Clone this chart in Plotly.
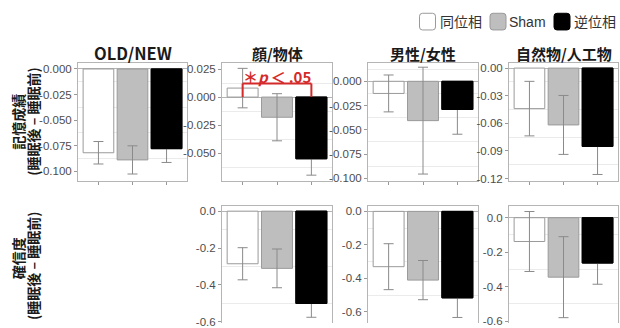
import plotly.graph_objects as go

# ---------------- data ----------------
conditions = ["同位相", "Sham", "逆位相"]

mem_titles = ["OLD/NEW", "顔/物体", "男性/女性", "自然物/人工物"]
mem_oldnew = [-0.082, -0.089, -0.078]
mem_oldnew_err = [0.011, 0.0138, 0.0135]
mem_face = [0.008, -0.018, -0.055]
mem_face_err = [0.0176, 0.021, 0.0146]
mem_gender = [-0.0125, -0.0405, -0.029]
mem_gender_err = [0.019, 0.055, 0.0255]
mem_nature = [-0.044, -0.0617, -0.085]
mem_nature_err = [0.0296, 0.032, 0.0305]

conf_face = [-0.285, -0.31, -0.50]
conf_face_err = [0.087, 0.105, 0.075]
conf_gender = [-0.33, -0.41, -0.516]
conf_gender_err = [0.137, 0.117, 0.117]
conf_nature = [-0.138, -0.345, -0.263]
conf_nature_err = [0.174, 0.235, 0.123]

ticks_mem3 = [0.0, -0.025, -0.05, -0.075, -0.1]
ticks_face = [0.025, 0.0, -0.025, -0.05]
ticks_nature = [0.0, -0.03, -0.06, -0.09, -0.12]
ticks_conf = [0.0, -0.2, -0.4, -0.6]

sig_pair = ("同位相", "逆位相")
sig_y = 0.0122
sig_label_y = 0.0184
sig_label = "＊<i>p</i>\u2009＜\u2009.05"

ylab_mem = ("記憶成績", "(睡眠後 – 睡眠前)")
ylab_conf = ("確信度", "(睡眠後 – 睡眠前)")

# ---------------- style / layout ----------------
W, H = 620, 328
fills = ["#ffffff", "#bebebe", "#000000"]
outlines = ["#9a9a9a", "#9a9a9a", "#000000"]
ERR = "#8a8a8a"
BORDER = "#b5b5b5"
GRID = "#ebebeb"
TICKFONT = dict(family="Liberation Sans, Arial, sans-serif", size=11.5, color="#4d4d4d")
CJK = "Noto Sans CJK JP"
RED = "#d42a2a"


def px(x):
    return x / W


def py(y):
    return 1 - y / H


cols = [(78, 187), (222, 332), (368, 478), (509, 618)]
top_y = (63, 183)
bot_y = (209, 328)

panels = [
    # axis idx, col, row, values, errors, ticks, fmt, step, yrange
    (1, 0, "top", mem_oldnew, mem_oldnew_err, ticks_mem3, "{:.3f}", 0.025, [-0.1093, 0.006]),
    (2, 1, "top", mem_face, mem_face_err, ticks_face, "{:.3f}", 0.025, [-0.0745, 0.0305]),
    (3, 2, "top", mem_gender, mem_gender_err, ticks_mem3, "{:.3f}", 0.025, [-0.1023, 0.019]),
    (4, 3, "top", mem_nature, mem_nature_err, ticks_nature, "{:.2f}", 0.03, [-0.1222, 0.0057]),
    (5, 1, "bot", conf_face, conf_face_err, ticks_conf, "{:.1f}", 0.2, [-0.606, 0.027]),
    (6, 2, "bot", conf_gender, conf_gender_err, ticks_conf, "{:.1f}", 0.2, [-0.666, 0.031]),
    (7, 3, "bot", conf_nature, conf_nature_err, ticks_conf, "{:.1f}", 0.2, [-0.611, 0.067]),
]

fig = go.Figure()
layout = dict(
    width=W, height=H, margin=dict(l=0, r=0, t=0, b=0),
    paper_bgcolor="white", plot_bgcolor="white",
    barmode="overlay", showlegend=False,
)


def fmt_tick(f, v):
    s = f.format(v)
    if s.startswith("-") and float(s) == 0:
        s = s[1:]
    return s


for idx, col, row, vals, errs, ticks, f, step, yr in panels:
    xa = "x" if idx == 1 else f"x{idx}"
    ya = "y" if idx == 1 else f"y{idx}"
    # bars: each condition its own trace; black drawn twice so its bar covers its inner error bar
    order = [0, 1, 2, 2]
    for k, i in enumerate(order):
        with_err = k != 3
        fig.add_trace(go.Bar(
            x=[conditions[i]], y=[vals[i]], width=0.9,
            marker=dict(color=fills[i], line=dict(color=outlines[i], width=1)),
            error_y=dict(type="data", array=[errs[i]], visible=with_err,
                         color=ERR, thickness=1, width=5),
            xaxis=xa, yaxis=ya, hoverinfo="skip",
        ))
    y0, y1 = top_y if row == "top" else bot_y
    xk = "xaxis" if idx == 1 else f"xaxis{idx}"
    yk = "yaxis" if idx == 1 else f"yaxis{idx}"
    minor_vals = [ticks[0] + step / 2] + [t - step / 2 for t in ticks]
    xdict = dict(
        domain=[px(cols[col][0]), px(cols[col][1])],
        anchor=ya, type="category", categoryorder="array", categoryarray=conditions,
        range=[-0.6, 2.6], showgrid=False, zeroline=False,
        showticklabels=False, showline=True, linecolor=BORDER, linewidth=1,
        fixedrange=True,
    )
    if row == "top":
        xdict.update(mirror=True, ticks="outside", ticklen=3, tickcolor="#999999", tickwidth=1)
    else:
        xdict.update(side="top", mirror=False, ticks="")
    ydict = dict(
        domain=[py(y1), py(y0)], anchor=xa, range=yr,
        tickmode="array", tickvals=ticks, ticktext=[fmt_tick(f, t) for t in ticks],
        tickfont=TICKFONT, ticks="outside", ticklen=3, tickcolor="#999999", tickwidth=1,
        ticklabeloverflow="allow",
        showgrid=False, zeroline=True, zerolinecolor=BORDER, zerolinewidth=1,
        showline=True, mirror=True, linecolor=BORDER, linewidth=1,
        minor=dict(tickmode="array", tickvals=minor_vals, showgrid=True,
                   gridcolor=GRID, gridwidth=1, ticks=""),
        fixedrange=True,
    )
    layout[xk] = xdict
    layout[yk] = ydict

annotations = []
shapes = []

# panel titles
for t, (c0, c1) in zip(mem_titles, cols):
    size = 16.5 if t.isascii() else 15
    annotations.append(dict(
        x=px((c0 + c1) / 2), y=py(53), xref="paper", yref="paper",
        text=t, showarrow=False, xanchor="center", yanchor="middle",
        font=dict(family=CJK, size=size, color="#1a1a1a", weight="bold"),
    ))

# y-axis titles
for (l1, l2), cy1, cy2 in [(ylab_mem, 123, 123), (ylab_conf, 262, 270)]:
    annotations.append(dict(x=px(18), y=py(cy1), xref="paper", yref="paper", text=l1,
                            textangle=-90, showarrow=False, xanchor="center", yanchor="middle",
                            font=dict(family=CJK, size=14, color="#1a1a1a", weight="bold")))
    annotations.append(dict(x=px(33), y=py(cy2), xref="paper", yref="paper", text=l2,
                            textangle=-90, showarrow=False, xanchor="center", yanchor="middle",
                            font=dict(family=CJK, size=14, color="#1a1a1a", weight="bold")))

# significance bracket in panel 2
i0 = conditions.index(sig_pair[0])
i1 = conditions.index(sig_pair[1])
for (xa0, ya0, xa1, ya1) in [(i0, 0, i0, sig_y), (i0, sig_y, i1, sig_y), (i1, sig_y, i1, 0)]:
    shapes.append(dict(type="line", xref="x2", yref="y2", x0=xa0, y0=ya0, x1=xa1, y1=ya1,
                       line=dict(color=RED, width=2)))
annotations.append(dict(x=(i0 + i1) / 2, y=sig_label_y, xref="x2", yref="y2", text=sig_label,
                        showarrow=False, xanchor="center", yanchor="middle",
                        font=dict(family=CJK, size=15, color=RED, weight="bold")))


# legend (manual)
def rrect(x0, y0, x1, y1, r):
    pts = (f"M {px(x0 + r)},{py(y0)} L {px(x1 - r)},{py(y0)} Q {px(x1)},{py(y0)} {px(x1)},{py(y0 + r)} "
           f"L {px(x1)},{py(y1 - r)} Q {px(x1)},{py(y1)} {px(x1 - r)},{py(y1)} "
           f"L {px(x0 + r)},{py(y1)} Q {px(x0)},{py(y1)} {px(x0)},{py(y1 - r)} "
           f"L {px(x0)},{py(y0 + r)} Q {px(x0)},{py(y0)} {px(x0 + r)},{py(y0)} Z")
    return pts


leg_boxes = [(419.5, 12.5, 435.5, 29.5), (490, 12.5, 506, 29.5), (554, 12.5, 570, 29.5)]
leg_text_x = [437.5, 507, 571.5]
for i, (bx0, by0, bx1, by1) in enumerate(leg_boxes):
    shapes.append(dict(type="path", xref="paper", yref="paper", path=rrect(bx0, by0, bx1, by1, 3),
                       fillcolor=fills[i], line=dict(color=outlines[i], width=1)))
    annotations.append(dict(x=px(leg_text_x[i]), y=py(21), xref="paper", yref="paper",
                            text=conditions[i], showarrow=False, xanchor="left", yanchor="middle",
                            font=dict(family="Liberation Sans, " + CJK, size=14, color="#333333")))

layout["annotations"] = annotations
layout["shapes"] = shapes
fig.update_layout(**layout)
fig.write_html("out.html")
